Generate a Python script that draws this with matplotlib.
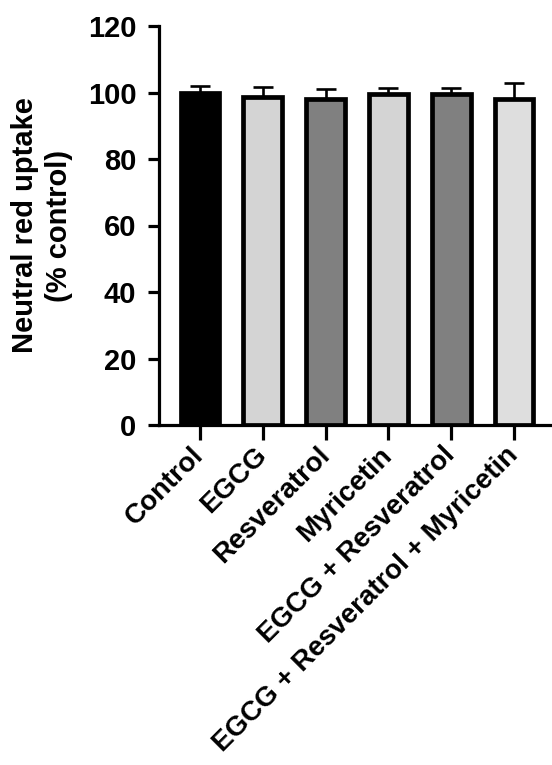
import matplotlib
matplotlib.use("Agg")
import matplotlib.pyplot as plt
import numpy as np

categories = ["Control", "EGCG", "Resveratrol", "Myricetin",
              "EGCG + Resveratrol", "EGCG + Resveratrol + Myricetin"]
means = [99.8, 98.6, 98.1, 99.4, 99.5, 98.0]
errors = [2.2, 3.2, 3.0, 2.1, 2.0, 4.8]
colors = ["#000000", "#d4d4d4", "#808080", "#d4d4d4", "#808080", "#dedede"]
yticks = [0, 20, 40, 60, 80, 100, 120]

plt.rcParams['font.family'] = ['Liberation Sans', 'DejaVu Sans']
plt.rcParams['font.weight'] = 'bold'

fig = plt.figure(figsize=(5.52, 7.65), dpi=100)
ax = fig.add_axes([158.5/552, 1-425/765, 1-158.5/552, (425-26)/765])

x = np.arange(len(categories))
ax.bar(x, means, width=0.62, color=colors, edgecolor="black", linewidth=3.4, zorder=3)
ax.errorbar(x, means, yerr=[np.zeros(len(errors)), errors], fmt="none",
            ecolor="black", elinewidth=1.9, capsize=7.5, capthick=1.9, zorder=2)

ax.set_ylim(0, 120)
ax.set_xlim(-0.661, 5.605)
ax.set_yticks(yticks)
ax.set_yticklabels([str(v) for v in yticks], fontsize=21, fontweight='bold')
ax.set_xticks(x)
ax.set_xticklabels(categories, fontsize=20, fontweight='bold', rotation=45,
                   ha='right', va='center', rotation_mode='anchor')

for s in ['top', 'right']:
    ax.spines[s].set_visible(False)
for s in ['left', 'bottom']:
    ax.spines[s].set_linewidth(2.3)
ax.tick_params(axis='y', length=8, width=2.3, pad=8)
ax.tick_params(axis='x', length=11, width=2.3, pad=8)

ax.set_ylabel("Neutral red uptake\n(% control)", fontsize=21, fontweight='bold',
              va='center', linespacing=1.3)
ax.yaxis.set_label_coords(-0.296, 0.5)

fig.savefig("out.png", dpi=100)
